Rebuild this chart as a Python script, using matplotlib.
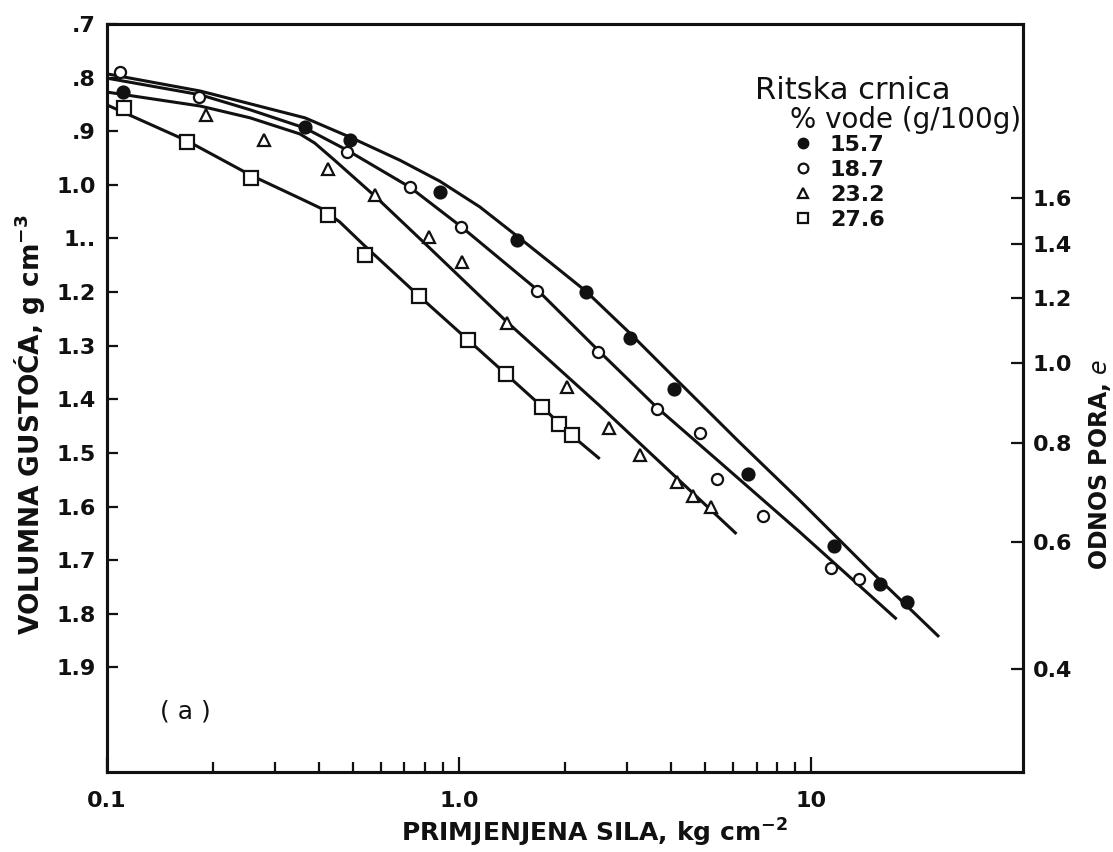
import matplotlib
matplotlib.use('Agg')
import matplotlib.pyplot as plt
from matplotlib.ticker import FixedLocator, NullFormatter
from matplotlib.lines import Line2D

plt.rcParams['font.family'] = ['DejaVu Sans']
plt.rcParams['mathtext.default'] = 'bf'

# ---- measured points: applied load (kg cm^-2) vs bulk density (g cm^-3)
load_157 = [0.111, 0.365, 0.490, 0.881, 1.458, 2.29, 3.05, 4.07, 6.64, 11.65, 15.7, 18.7]
dens_157 = [0.827, 0.892, 0.916, 1.013, 1.103, 1.200, 1.286, 1.381, 1.539, 1.674, 1.744, 1.778]

load_187 = [0.109, 0.182, 0.480, 0.724, 1.01, 1.67, 2.48, 3.66, 4.85, 5.39, 7.28, 11.4, 13.7]
dens_187 = [0.790, 0.836, 0.939, 1.004, 1.079, 1.198, 1.312, 1.418, 1.463, 1.549, 1.618, 1.715, 1.735]

load_232 = [0.191, 0.279, 0.424, 0.577, 0.820, 1.02, 1.37, 2.02, 2.66, 3.26, 4.15, 4.61, 5.21]
dens_232 = [0.870, 0.916, 0.970, 1.019, 1.097, 1.144, 1.258, 1.377, 1.453, 1.504, 1.554, 1.580, 1.601]

load_276 = [0.112, 0.169, 0.257, 0.424, 0.540, 0.769, 1.06, 1.36, 1.72, 1.92, 2.09]
dens_276 = [0.857, 0.920, 0.987, 1.056, 1.131, 1.207, 1.289, 1.353, 1.414, 1.446, 1.466]

# ---- hand-drawn fitted curves (nodes)
fit_x_157 = [0.1, 0.184, 0.365, 0.490, 0.679, 0.881, 1.145, 1.458, 1.809, 2.29, 3.05, 4.04, 6.26, 9.27, 14.65, 23.1]
fit_y_157 = [0.793, 0.825, 0.875, 0.911, 0.954, 0.993, 1.041, 1.095, 1.144, 1.198, 1.276, 1.356, 1.480, 1.588, 1.718, 1.843]

fit_x_187 = [0.1, 0.184, 0.255, 0.365, 0.480, 0.724, 1.01, 1.67, 2.48, 3.66, 5.50, 9.27, 17.5]
fit_y_187 = [0.801, 0.832, 0.860, 0.894, 0.935, 1.004, 1.077, 1.196, 1.308, 1.416, 1.517, 1.647, 1.810]

fit_x_232 = [0.1, 0.184, 0.255, 0.353, 0.389, 0.443, 0.577, 0.820, 1.37, 2.51, 6.14]
fit_y_232 = [0.827, 0.853, 0.875, 0.905, 0.922, 0.954, 1.021, 1.116, 1.256, 1.412, 1.651]

fit_x_276 = [0.1, 0.169, 0.256, 0.353, 0.403, 0.458, 0.540, 0.769, 1.06, 1.36, 1.71, 2.07, 2.51]
fit_y_276 = [0.851, 0.918, 0.982, 1.025, 1.043, 1.069, 1.114, 1.207, 1.289, 1.353, 1.412, 1.465, 1.511]

series_labels = ['15.7', '18.7', '23.2', '27.6']

# ---- axis ticks
dens_ticks = [0.7, 0.8, 0.9, 1.0, 1.1, 1.2, 1.3, 1.4, 1.5, 1.6, 1.7, 1.8, 1.9]
dens_tick_labels = ['.7', '.8', '.9', '1.0', '1..', '1.2', '1.3', '1.4', '1.5', '1.6', '1.7', '1.8', '1.9']
load_ticks = [0.1, 1.0, 10]
load_tick_labels = ['0.1', '1.0', '10']
load_minor = [0.2, 0.3, 0.4, 0.5, 0.6, 0.7, 0.8, 0.9, 2, 3, 4, 5, 6, 7, 8, 9]
void_ticks = [1.6, 1.4, 1.2, 1.0, 0.8, 0.6, 0.4]
void_tick_labels = ['1.6', '1.4', '1.2', '1.0', '0.8', '0.6', '0.4']
Gs = 2.665  # particle density linking bulk density and void ratio

W, H = 1113, 852
fig = plt.figure(figsize=(W / 100, H / 100), dpi=100)
fig.patch.set_facecolor('white')
ax = fig.add_axes([107 / W, 1 - 772 / H, (1023 - 107) / W, (772 - 24) / H])
ax.set_xscale('log')
ax.set_xlim(0.1, 40)
ax.set_ylim(2.095, 0.7)

lw = 2.2
ink = '#111111'
for fx, fy in [(fit_x_157, fit_y_157), (fit_x_187, fit_y_187),
               (fit_x_232, fit_y_232), (fit_x_276, fit_y_276)]:
    ax.plot(fx, fy, color=ink, lw=lw, solid_capstyle='butt', solid_joinstyle='round', zorder=2)

ax.plot(load_157, dens_157, ls='none', marker='o', ms=9, mfc=ink, mec=ink, mew=1.2, zorder=3)
ax.plot(load_187, dens_187, ls='none', marker='o', ms=8.0, mfc='white', mec=ink, mew=1.6, zorder=3)
ax.plot(load_232, dens_232, ls='none', marker='^', ms=8.5, mfc='white', mec=ink, mew=1.6, zorder=3)
ax.plot(load_276, dens_276, ls='none', marker='s', ms=9.5, mfc='white', mec=ink, mew=1.6, zorder=3)

# ticks
ax.xaxis.set_major_locator(FixedLocator(load_ticks))
ax.xaxis.set_minor_locator(FixedLocator(load_minor))
ax.xaxis.set_minor_formatter(NullFormatter())
ax.set_xticklabels(load_tick_labels, fontsize=16, fontweight='bold')
ax.set_yticks(dens_ticks)
ax.set_yticklabels(dens_tick_labels, fontsize=16, fontweight='bold')
ax.tick_params(axis='y', direction='in', length=8, width=1.6, pad=8, right=False, colors=ink)
ax.tick_params(axis='x', which='major', direction='in', length=11, width=1.6, pad=14, top=False, colors=ink)
ax.tick_params(axis='x', which='minor', direction='in', length=7, width=1.6, top=False, colors=ink)
for s in ax.spines.values():
    s.set_linewidth(lw)
    s.set_color(ink)

ax2 = ax.twinx()
ax2.set_ylim(ax.get_ylim())
ax2.set_yticks([Gs / (1 + e) for e in void_ticks])
ax2.set_yticklabels(void_tick_labels, fontsize=16, fontweight='bold')
ax2.tick_params(axis='y', direction='in', length=9, width=1.6, pad=7, colors=ink)
for s in ax2.spines.values():
    s.set_linewidth(lw)
    s.set_color(ink)

# axis labels
fig.text(594 / W, 1 - 833 / H, 'PRIMJENJENA SILA, kg cm$^{-2}$', ha='center', va='center',
         fontsize=18, fontweight='bold', color=ink)
fig.text(30 / W, 1 - 425 / H, 'VOLUMNA GUSTOĆA, g cm$^{-3}$', ha='center', va='center',
         rotation=90, fontsize=19, fontweight='bold', color=ink)
fig.text(1100 / W, 1 - 464 / H, 'ODNOS PORA, $\\mathit{e}$', ha='center', va='center',
         rotation=90, fontsize=17, fontweight='bold', color=ink)
fig.text(185 / W, 1 - 712 / H, '( a )', ha='center', va='center', fontsize=18, color=ink)

# legend
fig.text(755 / W, 1 - 99 / H, 'Ritska crnica', ha='left', va='baseline', fontsize=22, color=ink)
fig.text(790 / W, 1 - 128 / H, '% vode (g/100g)', ha='left', va='baseline', fontsize=20, color=ink)
handles = [
    Line2D([], [], ls='none', marker='o', ms=7.5, mfc=ink, mec=ink),
    Line2D([], [], ls='none', marker='o', ms=7, mfc='white', mec=ink, mew=1.6),
    Line2D([], [], ls='none', marker='^', ms=7, mfc='white', mec=ink, mew=1.6),
    Line2D([], [], ls='none', marker='s', ms=7.5, mfc='white', mec=ink, mew=1.6),
]
leg = fig.legend(handles, series_labels, loc='upper left', bbox_to_anchor=(792 / W, 1 - 135 / H),
                 frameon=False, borderpad=0, borderaxespad=0, handlelength=1.0,
                 handletextpad=0.7, labelspacing=0.22,
                 prop={'size': 16, 'weight': 'bold'})
for t in leg.get_texts():
    t.set_color(ink)

fig.savefig('out.png', dpi=100, facecolor='white')
